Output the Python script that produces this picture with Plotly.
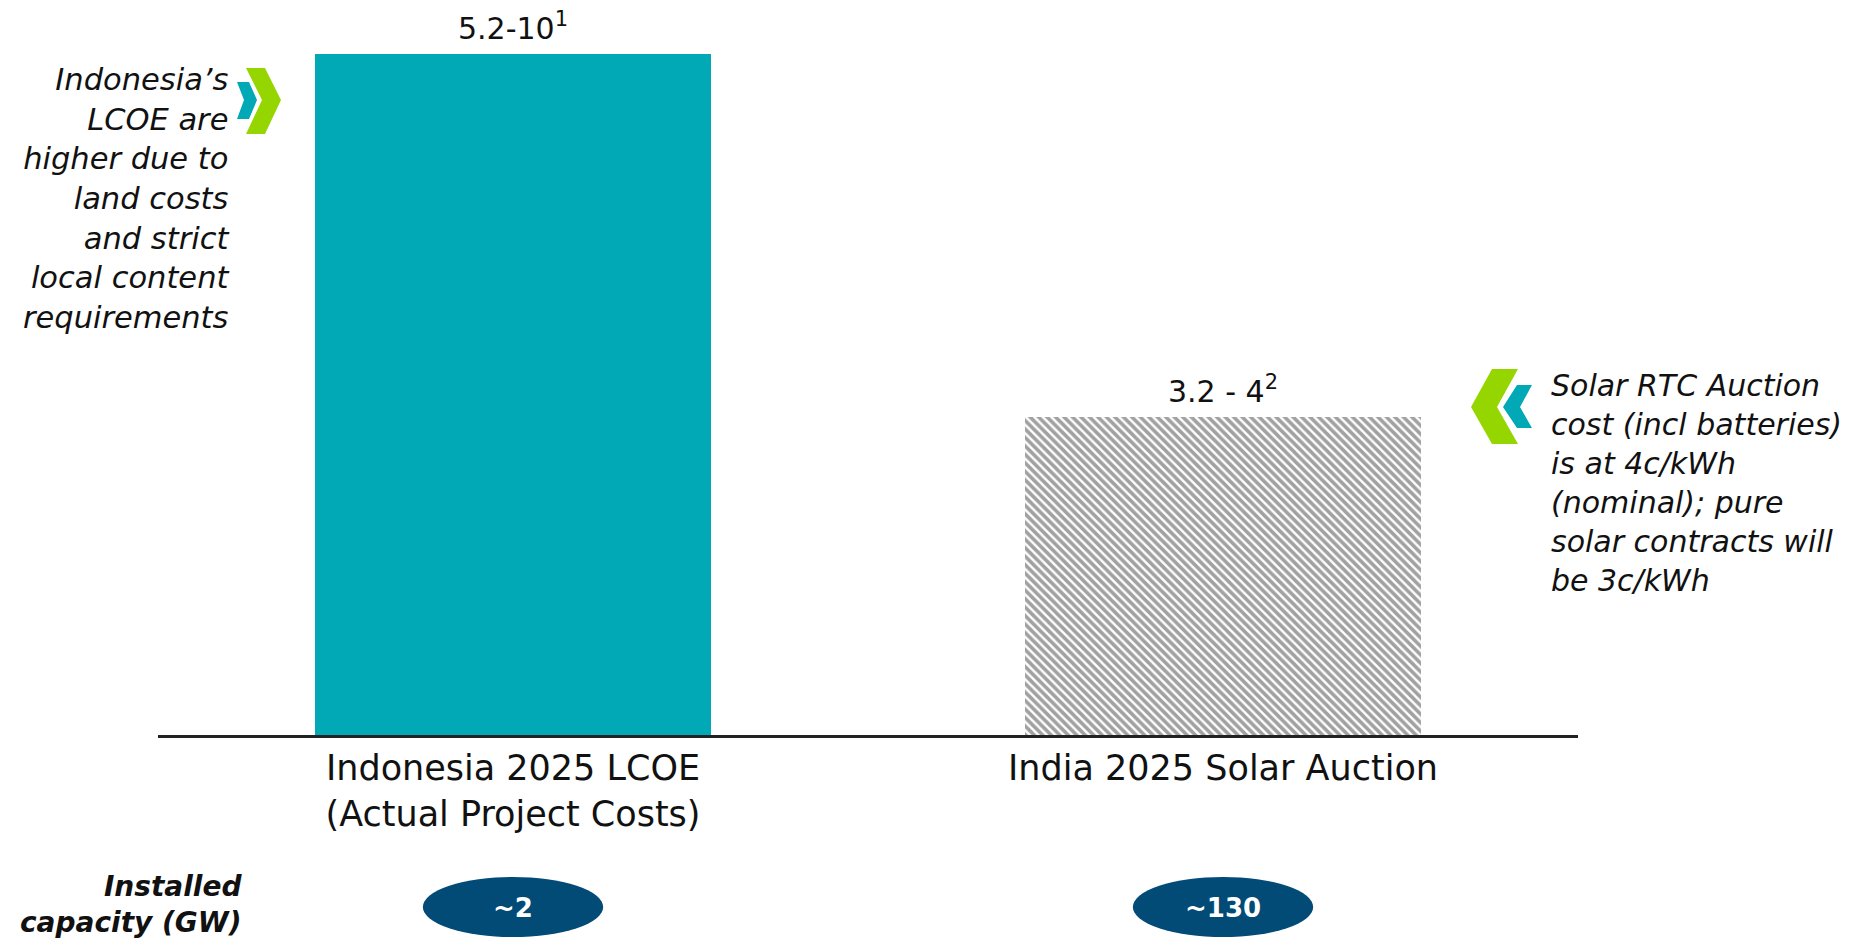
import plotly.graph_objects as go

# the page body keeps an 8px margin around the figure
O = 8
W, H = 1858 - 2 * O, 946 - 2 * O

categories = ['Indonesia 2025 LCOE<br>(Actual Project Costs)', 'India 2025 Solar Auction']
bar_heights = [10, 4.67]
bar_labels = ['5.2-10<sup>1</sup>', '3.2 - 4<sup>2</sup>']
capacity_labels = ['~2', '~130']

left_note = "Indonesia’s<br>LCOE are<br>higher due to<br>land costs<br>and strict<br>local content<br>requirements"
right_note = "Solar RTC Auction<br>cost (incl batteries)<br>is at 4c/kWh<br>(nominal); pure<br>solar contracts will<br>be 3c/kWh"

TEAL = '#00A9B5'
GREEN = '#96D600'
NAVY = '#024B76'
FONT = 'DejaVu Sans'
INK = '#111111'


def px(x=None, y=None):
    # page pixel -> paper fraction
    if x is not None:
        return (x - O) / W
    return 1 - (y - O) / H


def px_path(points):
    # decorative chevrons, given in pixels of the page
    return 'M ' + ' L '.join(f'{px(x=x):.5f},{px(y=y):.5f}' for x, y in points) + ' Z'


fig = go.Figure()
fig.add_trace(go.Bar(
    x=categories,
    y=bar_heights,
    width=0.557,
    marker=dict(
        color=[TEAL, 'white'],
        line=dict(width=0),
        pattern=dict(shape=['', '\\'], fgcolor='black', bgcolor=[TEAL, 'white'],
                     size=6, solidity=0.6),
    ),
    hoverinfo='skip',
))

annotations = []
for cat, h, lab in zip(categories, bar_heights, bar_labels):
    annotations.append(dict(x=cat, y=h, xref='x', yref='y', text=lab, showarrow=False,
                            yanchor='bottom', yshift=6,
                            font=dict(family=FONT, size=30, color=INK)))

for i, lab in enumerate(capacity_labels):
    annotations.append(dict(x=i, y=px(y=908), xref='x', yref='paper', text=f'<b>{lab}</b>',
                            yanchor='middle', showarrow=False,
                            font=dict(family=FONT, size=26, color='white')))

annotations += [
    dict(x=px(x=231), y=px(y=199), xref='paper', yref='paper', text=f'<i>{left_note}</i>',
         xanchor='right', yanchor='middle', align='right', showarrow=False,
         font=dict(family=FONT, size=30.5, color=INK)),
    dict(x=px(x=1549), y=px(y=483), xref='paper', yref='paper', text=f'<i>{right_note}</i>',
         xanchor='left', yanchor='middle', align='left', showarrow=False,
         font=dict(family=FONT, size=30, color=INK)),
    dict(x=px(x=244), y=px(y=904), xref='paper', yref='paper',
         text='<b><i>Installed<br>capacity (GW)</i></b>',
         xanchor='right', yanchor='middle', align='right', showarrow=False,
         font=dict(family=FONT, size=28, color=INK)),
]

shapes = []
for i in range(len(capacity_labels)):
    shapes.append(dict(type='circle', xref='x', yref='paper', x0=i - 0.127, x1=i + 0.127,
                       y0=px(y=937), y1=px(y=877), fillcolor=NAVY, line=dict(width=0),
                       layer='below'))

chevrons = [
    ([(246, 68), (265, 68), (281, 100), (265, 134), (246, 134), (262, 100)], GREEN),
    ([(237, 82), (249, 82), (257, 100), (249, 119), (237, 119), (244, 100)], TEAL),
    ([(1492, 369), (1518, 369), (1497, 407), (1518, 444), (1492, 444), (1471, 407)], GREEN),
    ([(1517, 385), (1532, 385), (1520, 407), (1532, 428), (1517, 428), (1503, 407)], TEAL),
]
for pts, col in chevrons:
    shapes.append(dict(type='path', xref='paper', yref='paper', path=px_path(pts),
                       fillcolor=col, line=dict(width=0)))

fig.update_layout(
    width=W, height=H,
    margin=dict(l=0, r=0, t=0, b=0),
    plot_bgcolor='white', paper_bgcolor='white',
    showlegend=False,
    bargap=0,
    xaxis=dict(domain=[px(x=158), px(x=1578)], type='category', range=[-0.5, 1.5],
               showline=True, linecolor='#222222', linewidth=3, ticks='',
               showgrid=False, zeroline=False,
               tickfont=dict(family=FONT, size=35, color=INK)),
    yaxis=dict(domain=[px(y=735), px(y=54)], range=[0, 10], visible=False),
    annotations=annotations,
    shapes=shapes,
)

fig.write_html("out.html")
